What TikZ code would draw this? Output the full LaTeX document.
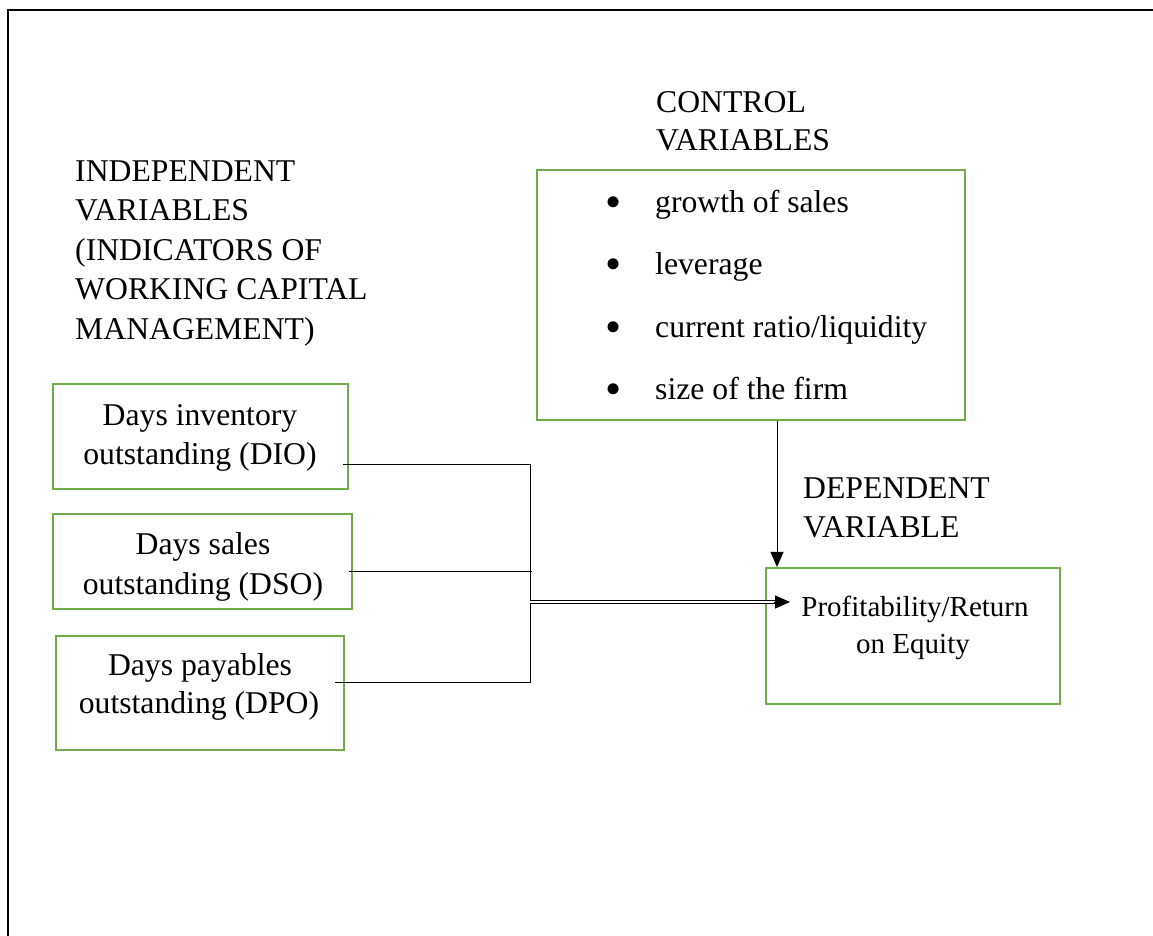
\documentclass[tikz,border=0pt]{standalone}
\usepackage{fontspec}
\setmainfont{Liberation Serif}
\usetikzlibrary{arrows.meta,calc}
\definecolor{boxgreen}{RGB}{112,173,71}
\newcommand{\mainfs}{\fontsize{31.7}{39}\selectfont}
\newcommand{\smallfs}{\fontsize{29}{37}\selectfont}
\newcommand{\bulletfs}{\fontsize{46}{46}\selectfont}
\begin{document}
\begin{tikzpicture}[x=1pt,y=-1pt,
  gbox/.style={draw=boxgreen,line width=2.2pt,inner sep=0pt,rectangle},
  ln/.style={anchor=base,inner sep=0pt,font=\mainfs},
  lnw/.style={anchor=base west,inner sep=0pt,font=\mainfs},
  lns/.style={anchor=base,inner sep=0pt,font=\smallfs},
  bul/.style={anchor=center,inner sep=0pt,font=\bulletfs},
  conn/.style={draw=black,line width=1pt},
  tipstyle/.style={-{Triangle[length=15pt,width=13pt]}}]
\useasboundingbox (0,0) rectangle (1153,935);
% outer frame
\draw[line width=1.6pt] (8,950) -- (8,10) -- (1165,10);

% boxes
\node[gbox,minimum width=295pt,minimum height=105pt] (dio) at (200.5,436.5) {};
\node[gbox,minimum width=299pt,minimum height=95pt] (dso) at (202.5,561.5) {};
\node[gbox,minimum width=288pt,minimum height=114pt] (dpo) at (200,693) {};
\node[gbox,minimum width=428pt,minimum height=250pt] (ctrl) at (751,295) {};
\node[gbox,minimum width=294pt,minimum height=136pt] (dep) at (913,636) {};

% box texts
\node[ln] (dio1) at (200,425) {Days inventory};
\node[ln] (dio2) at (200,464) {outstanding (DIO)};
\node[ln] (dso1) at (203,554) {Days sales};
\node[ln] (dso2) at (203,594) {outstanding (DSO)};
\node[ln] (dpo1) at (200,675) {Days payables};
\node[ln] (dpo2) at (199,713) {outstanding (DPO)};
\node[lns] (dep1) at (915,616) {Profitability/Return};
\node[lns] (dep2) at (913,653) {on Equity};

% headings
\node[lnw] (ind1) at (75,181) {INDEPENDENT};
\node[lnw] (ind2) at (75,220.5) {VARIABLES};
\node[lnw] (ind3) at (75,260) {(INDICATORS OF};
\node[lnw] (ind4) at (75,299.5) {WORKING CAPITAL};
\node[lnw] (ind5) at (75,339) {MANAGEMENT)};
\node[lnw] (con1) at (656,112) {CONTROL};
\node[lnw] (con2) at (656,150) {VARIABLES};
\node[lnw] (dv1) at (803,498) {DEPENDENT};
\node[lnw] (dv2) at (803,537) {VARIABLE};

% bullet list
\node[bul] (b1) at (614,207) {•};
\node[bul] (b2) at (614,269) {•};
\node[bul] (b3) at (614,332) {•};
\node[bul] (b4) at (614,394) {•};
\node[lnw] (c1) at (655,212) {growth of sales};
\node[lnw] (c2) at (655,274) {leverage};
\node[lnw] (c3) at (655,337) {current ratio/liquidity};
\node[lnw] (c4) at (655,399) {size of the firm};

% connectors
\coordinate (jt) at (530,464);
\coordinate (jb) at (530,682);
\coordinate (jm) at (530,602);
\coordinate (tip) at (790,602);
\coordinate (vx) at (777,0);
\draw[conn] ($(dio.east|-jt)+(-6,0)$) -- (jt) -- (jb) -- ($(dpo.east|-jb)+(-10,0)$);
\draw[conn] ($(dso.east)+(-4,9.5)$) -- ($(jt|-dso.east)+(2,9.5)$);
\draw[conn,line width=0.8pt,double,double distance=2.4pt] (jm) -- ($(tip)+(-13,0)$);
\draw[conn,tipstyle] ($(tip)+(-16,0)$) -- (tip);
\draw[conn,tipstyle] (ctrl.south-|vx) -- (dep.north-|vx);
\end{tikzpicture}
\end{document}
